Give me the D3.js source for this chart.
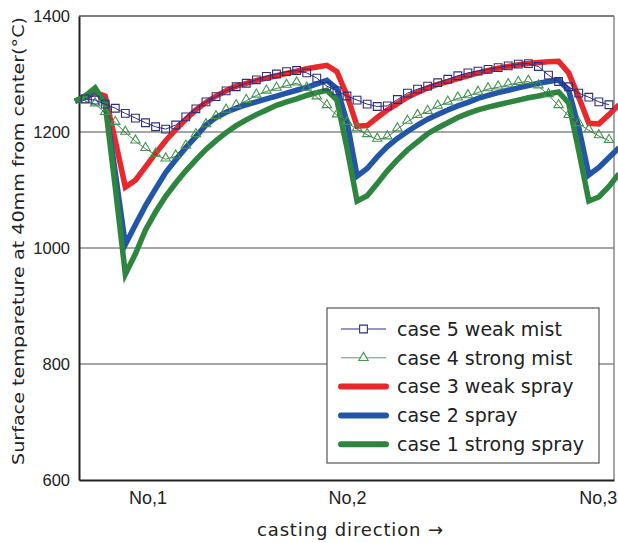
<!DOCTYPE html>
<html>
<head>
<meta charset="utf-8">
<script src="https://cdn.jsdelivr.net/npm/d3@7"></script>
<style>
    body { margin: 0; background: #fff; }
    text { font-family: "DejaVu Sans", "Noto Sans", sans-serif; fill: #222; }
    .tick text { font-family: "Liberation Sans", Arial, sans-serif; }
</style>
</head>
<body>
<svg id="chart" width="618" height="543"></svg>
<script>
'use strict';

// positions along the casting direction (one step = one sample)
let mistPos = d3.range(0, 53);
let sprayPos = d3.range(-1, 54);

let case5 = [1257, 1255, 1248, 1241, 1232, 1224, 1216, 1209, 1205, 1212,
    1226, 1240, 1252, 1261, 1271, 1278, 1284, 1290, 1296, 1300,
    1304, 1306, 1302, 1293, 1279, 1271, 1262, 1255, 1248, 1244,
    1245, 1256, 1267, 1274, 1279, 1285, 1291, 1297, 1302, 1305,
    1308, 1311, 1314, 1317, 1318, 1313, 1298, 1287, 1278, 1267,
    1260, 1252, 1247];

let case4 = [1253, 1248, 1233, 1216, 1199, 1184, 1171, 1161, 1153, 1158,
    1175, 1195, 1212, 1226, 1237, 1245, 1254, 1263, 1270, 1275,
    1280, 1284, 1275, 1260, 1245, 1229, 1216, 1205, 1195, 1187,
    1191, 1205, 1218, 1228, 1235, 1244, 1251, 1258, 1262, 1268,
    1274, 1277, 1281, 1285, 1287, 1279, 1264, 1245, 1228, 1214,
    1203, 1193, 1185];

let case3 = [1253, 1259, 1268, 1262, 1185, 1105, 1117, 1140, 1163, 1185,
    1204, 1222, 1238, 1251, 1262, 1271, 1279, 1284, 1289, 1293,
    1297, 1301, 1305, 1309, 1312, 1315, 1304, 1263, 1210, 1211,
    1225, 1238, 1249, 1260, 1268, 1276, 1282, 1287, 1292, 1297,
    1302, 1306, 1310, 1313, 1316, 1318, 1320, 1321, 1322, 1302,
    1260, 1215, 1214, 1230, 1247];

let case2 = [1253, 1260, 1272, 1252, 1130, 1006, 1040, 1073, 1102, 1130,
    1152, 1173, 1192, 1212, 1225, 1234, 1241, 1247, 1252, 1257,
    1262, 1267, 1272, 1277, 1283, 1289, 1275, 1218, 1124, 1137,
    1157, 1175, 1189, 1201, 1212, 1222, 1230, 1238, 1245, 1251,
    1258, 1263, 1268, 1272, 1276, 1280, 1284, 1287, 1290, 1272,
    1208, 1126, 1139, 1156, 1173];

let case1 = [1253, 1262, 1276, 1248, 1105, 955, 990, 1031, 1062, 1089,
    1112, 1133, 1152, 1170, 1185, 1199, 1211, 1221, 1230, 1238,
    1246, 1252, 1257, 1263, 1268, 1272, 1255, 1172, 1081, 1090,
    1111, 1133, 1152, 1169, 1183, 1197, 1207, 1216, 1225, 1232,
    1238, 1243, 1247, 1251, 1255, 1259, 1262, 1266, 1269, 1250,
    1168, 1081, 1088, 1106, 1128];

let yTicks = [600, 800, 1000, 1200, 1400];
let xTickLabels = ['No,1', 'No,2', 'No,3'];
let xTickPos = [6.2, 26, 50.9];

let legendLabels = ['case 5 weak mist', 'case 4 strong mist', 'case 3 weak spray', 'case 2 spray', 'case 1 strong spray'];

let margin = {top: 16, right: 4, bottom: 63, left: 79};
let width = 618 - margin.left - margin.right;
let height = 543 - margin.top - margin.bottom;

let svg = d3.select('#chart');
let g = svg.append('g')
    .attr('transform', 'translate(' + margin.left + ',' + margin.top + ')');

let x = d3.scaleLinear().domain([-0.6, 52.5]).range([0, width]);
let y = d3.scaleLinear().domain([600, 1400]).range([height, 0]);

// gridlines
g.selectAll('.grid')
    .data(yTicks.filter(function (d) { return d > 600 && d < 1400; }))
    .join('line')
    .attr('class', 'grid')
    .attr('x1', 0)
    .attr('x2', width)
    .attr('y1', function (d) { return y(d); })
    .attr('y2', function (d) { return y(d); })
    .attr('stroke', '#888')
    .attr('stroke-width', 1.5);

// frame
g.append('line').attr('x1', 0).attr('x2', width).attr('y1', 0).attr('y2', 0)
    .attr('stroke', '#555').attr('stroke-width', 1.5);
g.append('line').attr('x1', width).attr('x2', width).attr('y1', 0).attr('y2', height)
    .attr('stroke', '#888').attr('stroke-width', 1.5);

let yAxis = g.append('g')
    .call(d3.axisLeft(y).tickValues(yTicks).tickSize(0).tickPadding(9).tickFormat(d3.format('d')));
yAxis.select('.domain').attr('stroke', '#222').attr('stroke-width', 2);
yAxis.selectAll('text').style('font-size', '16.5px').attr('fill', '#222');

let xAxis = g.append('g')
    .attr('transform', 'translate(0,' + height + ')')
    .call(d3.axisBottom(x).tickValues(xTickPos).tickSize(0).tickPadding(11)
        .tickFormat(function (d, i) { return xTickLabels[i]; }));
xAxis.select('.domain').attr('stroke', '#222').attr('stroke-width', 2);
xAxis.selectAll('text').style('font-size', '18px').attr('fill', '#222');

// thick spray lines
let sprays = [
    {values: case3, color: '#e8282b'},
    {values: case2, color: '#2356a8'},
    {values: case1, color: '#2e8540'}
];

let sprayLine = d3.line()
    .x(function (d, i) { return x(sprayPos[i]); })
    .y(function (d) { return y(d); });

g.selectAll('.spray')
    .data(sprays)
    .join('path')
    .attr('class', 'spray')
    .attr('d', function (d) { return sprayLine(d.values); })
    .attr('fill', 'none')
    .attr('stroke', function (d) { return d.color; })
    .attr('stroke-width', 5.5);

let mistLine = d3.line()
    .x(function (d, i) { return x(mistPos[i]); })
    .y(function (d) { return y(d); });

let triangle = d3.symbol().type(d3.symbolTriangle).size(38);
let square = d3.symbol().type(d3.symbolSquare).size(60);

// case 4 strong mist
g.append('path')
    .attr('d', mistLine(case4))
    .attr('fill', 'none')
    .attr('stroke', '#3a4a3a')
    .attr('stroke-width', 0.8);

g.selectAll('.tri')
    .data(case4)
    .join('path')
    .attr('class', 'tri')
    .attr('d', triangle)
    .attr('transform', function (d, i) { return 'translate(' + x(mistPos[i]) + ',' + (y(d) - 1) + ')'; })
    .attr('fill', 'none')
    .attr('stroke', '#3d9a4c')
    .attr('stroke-width', 1.1);

// case 5 weak mist
g.append('path')
    .attr('d', mistLine(case5))
    .attr('fill', 'none')
    .attr('stroke', '#2e2e7e')
    .attr('stroke-width', 1);

g.selectAll('.sq')
    .data(case5)
    .join('path')
    .attr('class', 'sq')
    .attr('d', square)
    .attr('transform', function (d, i) { return 'translate(' + x(mistPos[i]) + ',' + y(d) + ')'; })
    .attr('fill', 'none')
    .attr('stroke', '#2e2e7e')
    .attr('stroke-width', 1.1);

// legend
let legend = svg.append('g').attr('transform', 'translate(327,308)');
legend.append('rect')
    .attr('width', 272)
    .attr('height', 155)
    .attr('fill', '#fff')
    .attr('stroke', '#555')
    .attr('stroke-width', 1.2);

let legendKeys = [
    {color: '#2e2e7e', line: '#2e2e7e', thick: false, symbol: square, stroke: '#2e2e7e'},
    {color: '#3d9a4c', line: '#6f8f6f', thick: false, symbol: triangle, stroke: '#3d9a4c'},
    {color: '#e8282b', thick: true},
    {color: '#2356a8', thick: true},
    {color: '#2e8540', thick: true}
];

let rows = legend.selectAll('.row')
    .data(legendKeys)
    .join('g')
    .attr('class', 'row')
    .attr('transform', function (d, i) { return 'translate(0,' + (21 + i * 28.8) + ')'; });

rows.append('line')
    .attr('x1', 14)
    .attr('x2', 59)
    .attr('stroke', function (d) { return d.thick ? d.color : d.line; })
    .attr('stroke-width', function (d) { return d.thick ? 6 : 1; })
    .attr('stroke-linecap', function (d) { return d.thick ? 'round' : 'butt'; });

rows.filter(function (d) { return !d.thick; })
    .append('path')
    .attr('d', function (d) { return d.symbol(); })
    .attr('transform', 'translate(36.5,0)')
    .attr('fill', '#fff')
    .attr('stroke', function (d) { return d.stroke; })
    .attr('stroke-width', 1.1);

rows.append('text')
    .attr('x', 70)
    .attr('dy', '0.36em')
    .style('font-size', '19px')
    .text(function (d, i) { return legendLabels[i]; });

// axis titles
svg.append('text')
    .attr('transform', 'translate(24,241)rotate(-90)')
    .attr('text-anchor', 'middle')
    .attr('textLength', 448)
    .attr('lengthAdjust', 'spacingAndGlyphs')
    .style('font-size', '16.5px')
    .text('Surface tempareture at 40mm from center(°C)');

svg.append('text')
    .attr('x', 350)
    .attr('y', 536)
    .attr('text-anchor', 'middle')
    .attr('textLength', 186)
    .style('font-size', '18px')
    .text('casting direction  →');
</script>
</body>
</html>
